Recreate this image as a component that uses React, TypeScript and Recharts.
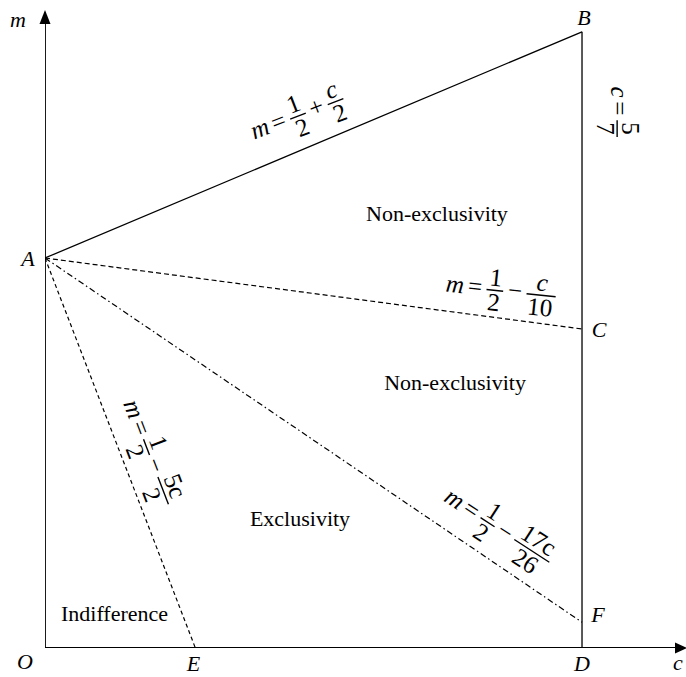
import { ComposedChart, Line, ReferenceDot, XAxis, YAxis } from 'recharts'

// values (c across, m up)
const C_MAX = 0.8526
const M_MAX = 0.8308
const C_BOUND = 5 / 7
const A_M = 0.5
const B_M = 0.79
const C_M = 0.409
const F_M = 0.033
const E_C = 0.2

const lineAB = [{ c: 0, m: A_M }, { c: C_BOUND, m: B_M }]
const lineAC = [{ c: 0, m: A_M }, { c: C_BOUND, m: C_M }]
const lineAF = [{ c: 0, m: A_M }, { c: C_BOUND, m: F_M }]
const lineAE = [{ c: 0, m: A_M }, { c: E_C, m: 0 }]
const lineBD = [{ c: C_BOUND, m: B_M }, { c: C_BOUND, m: 0 }]
const axisC = [{ c: 0, m: 0 }, { c: 0.838, m: 0 }]
const axisM = [{ c: 0, m: 0 }, { c: 0, m: 0.8 }]

const SERIF = '"Liberation Serif", "Times New Roman", serif'
const FS = 22

type Tok = { k: 't'; s: string; it?: boolean } | { k: 'f'; n: string; d: string; it?: boolean }

const tokWidth = (t: Tok, size: number) => {
  if (t.k === 'f') return Math.max(t.n.length, t.d.length) * 0.5 * size + 0.25 * size
  if (t.s === 'm') return 0.75 * size
  if (t.s === 'c') return 0.45 * size
  return 0.62 * size
}

function formula(tokens: Tok[], angle: number, size = 25) {
  return (p: any) => {
    const gap = 3
    const ws = tokens.map((t) => tokWidth(t, size))
    const total = ws.reduce((s, w) => s + w, 0) + (tokens.length - 1) * gap
    let x = -total / 2
    const parts = tokens.map((t, i) => {
      const w = ws[i]
      const mid = x + w / 2
      x += w + gap
      if (t.k === 't') {
        return (
          <text key={i} x={mid} y={0.25 * size} textAnchor="middle" fontStyle={t.it ? 'italic' : 'normal'}>
            {t.s}
          </text>
        )
      }
      return (
        <g key={i}>
          <text x={mid} y={-0.18 * size} textAnchor="middle" fontStyle={t.it ? 'italic' : 'normal'}>{t.n}</text>
          <line x1={mid - w / 2 + 1} x2={mid + w / 2 - 1} y1={0} y2={0} stroke="#000" strokeWidth={1.4} />
          <text x={mid} y={0.82 * size} textAnchor="middle">{t.d}</text>
        </g>
      )
    })
    return (
      <g transform={`translate(${p.cx},${p.cy}) rotate(${angle})`} fontFamily={SERIF} fontSize={size} fill="#000">
        {parts}
      </g>
    )
  }
}

function label(text: string, dx: number, dy: number, italic = true) {
  return (p: any) => (
    <text
      x={p.cx + dx}
      y={p.cy + dy + FS * 0.33}
      textAnchor="middle"
      fontFamily={SERIF}
      fontSize={FS}
      fontStyle={italic ? 'italic' : 'normal'}
      fill="#000"
    >
      {text}
    </text>
  )
}

const arrowRight = (p: any) => <polygon points={`${p.cx},${p.cy - 5.5} ${p.cx + 12},${p.cy} ${p.cx},${p.cy + 5.5}`} fill="#000" />
const arrowUp = (p: any) => <polygon points={`${p.cx - 5.5},${p.cy} ${p.cx},${p.cy - 14} ${p.cx + 5.5},${p.cy}`} fill="#000" />

const M = { k: 't', s: 'm', it: true } as Tok
const EQ = { k: 't', s: '=' } as Tok
const HALF = { k: 'f', n: '1', d: '2' } as Tok
const PLUS = { k: 't', s: '+' } as Tok
const MINUS = { k: 't', s: '−' } as Tok

export default function App() {
  return (
    <div style={{ position: 'absolute', left: 0, top: 0, background: '#fff' }}>
      <ComposedChart width={686} height={677} margin={{ top: 0, right: 0, left: 45, bottom: 29 }}>
        <XAxis type="number" dataKey="c" domain={[0, C_MAX]} hide allowDataOverflow />
        <YAxis type="number" dataKey="m" domain={[0, M_MAX]} hide allowDataOverflow />

        <Line data={axisC} dataKey="m" stroke="#000" strokeWidth={1.8} dot={false} isAnimationActive={false} />
        <Line data={axisM} dataKey="m" stroke="#000" strokeWidth={1.8} dot={false} isAnimationActive={false} />
        <Line data={lineAB} dataKey="m" stroke="#000" strokeWidth={1.3} dot={false} isAnimationActive={false} />
        <Line data={lineBD} dataKey="m" stroke="#000" strokeWidth={1.3} dot={false} isAnimationActive={false} />
        <Line data={lineAC} dataKey="m" stroke="#000" strokeWidth={1.2} strokeDasharray="5 3" dot={false} isAnimationActive={false} />
        <Line data={lineAF} dataKey="m" stroke="#000" strokeWidth={1.2} strokeDasharray="6 3 1.5 3" dot={false} isAnimationActive={false} />
        <Line data={lineAE} dataKey="m" stroke="#000" strokeWidth={1.2} strokeDasharray="4 3" dot={false} isAnimationActive={false} />

        <ReferenceDot x={0.838} y={0} ifOverflow="visible" shape={arrowRight} />
        <ReferenceDot x={0} y={0.8} ifOverflow="visible" shape={arrowUp} />

        {/* point labels */}
        <ReferenceDot x={0} y={0} ifOverflow="visible" shape={label('O', -20, 14)} />
        <ReferenceDot x={0} y={M_MAX} ifOverflow="visible" shape={label('m', -27, 20)} />
        <ReferenceDot x={C_MAX} y={0} ifOverflow="visible" shape={label('c', -8, 15)} />
        <ReferenceDot x={0} y={A_M} ifOverflow="visible" shape={label('A', -17, 1)} />
        <ReferenceDot x={C_BOUND} y={B_M} ifOverflow="visible" shape={label('B', 2, -14)} />
        <ReferenceDot x={C_BOUND} y={C_M} ifOverflow="visible" shape={label('C', 17, 1)} />
        <ReferenceDot x={C_BOUND} y={F_M} ifOverflow="visible" shape={label('F', 16, -8)} />
        <ReferenceDot x={C_BOUND} y={0} ifOverflow="visible" shape={label('D', 0, 16)} />
        <ReferenceDot x={E_C} y={0} ifOverflow="visible" shape={label('E', -2, 16)} />

        {/* region labels */}
        <ReferenceDot x={0.5214} y={0.5564} ifOverflow="visible" shape={label('Non-exclusivity', 0, 0, false)} />
        <ReferenceDot x={0.5454} y={0.3397} ifOverflow="visible" shape={label('Non-exclusivity', 0, 0, false)} />
        <ReferenceDot x={0.3392} y={0.1654} ifOverflow="visible" shape={label('Exclusivity', 0, 0, false)} />
        <ReferenceDot x={0.0925} y={0.0436} ifOverflow="visible" shape={label('Indifference', 0, 0, false)} />

        {/* boundary formulas */}
        <ReferenceDot x={0.3365} y={0.682} ifOverflow="visible"
          shape={formula([M, EQ, HALF, PLUS, { k: 'f', n: 'c', d: '2', it: true }], -21)} />
        <ReferenceDot x={0.6066} y={0.4577} ifOverflow="visible"
          shape={formula([M, EQ, HALF, MINUS, { k: 'f', n: 'c', d: '10', it: true }], 6)} />
        <ReferenceDot x={0.138} y={0.25} ifOverflow="visible"
          shape={formula([M, EQ, HALF, MINUS, { k: 'f', n: '5c', d: '2' }], 69)} />
        <ReferenceDot x={0.6026} y={0.1526} ifOverflow="visible"
          shape={formula([M, EQ, HALF, MINUS, { k: 'f', n: '17c', d: '26' }], 33)} />
        <ReferenceDot x={0.761} y={0.687} ifOverflow="visible"
          shape={formula([{ k: 't', s: 'c', it: true }, EQ, { k: 'f', n: '5', d: '7' }], 90)} />
      </ComposedChart>
    </div>
  )
}
